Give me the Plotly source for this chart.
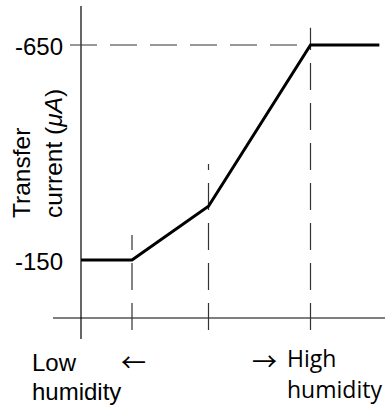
import plotly.graph_objects as go

# ---- data ----
humidity = [0, 2, 5, 9, 11.7]           # arbitrary humidity units
current = [-150, -150, -275, -650, -650]  # transfer current (uA)
thresholds_x = [2, 5, 9]
thresholds_top = [-208, -373, -690]
guide_bottom = 13
y_ticks = [-650, -150]
y_tick_labels = ["-650", "-150"]

W, H = 385, 409
PX_PER_X = 25.5
X0_PX = 81
Y_REF_PX, Y_REF_V = 260, -150
V_PER_PX = 500 / 215.0

def v_at(py):
    return Y_REF_V + (py - Y_REF_PX) * V_PER_PX

def x_at(px):
    return (px - X0_PX) / PX_PER_X

xr = [x_at(0), x_at(W)]
yr = [v_at(H), v_at(0)]

LEFT_FONT = "Liberation Sans, Arial, sans-serif"
RIGHT_FONT = "Open Sans, Noto Sans, sans-serif"
ARROW_FONT = "Noto Sans CJK SC"
DASH = "27px,13px"
GUIDE_COLOR = "#333333"

fig = go.Figure()

# axes lines
fig.add_trace(go.Scatter(x=[0, 0], y=[v_at(339), v_at(6)], mode="lines",
                         line=dict(color="black", width=1.2), hoverinfo="skip", showlegend=False))
fig.add_trace(go.Scatter(x=[x_at(53), x_at(W)], y=[v_at(318), v_at(318)], mode="lines",
                         line=dict(color="black", width=1.2), hoverinfo="skip", showlegend=False))

# horizontal dashed guide at -650
fig.add_trace(go.Scatter(x=[x_at(70), thresholds_x[-1]], y=[y_ticks[0], y_ticks[0]], mode="lines",
                         line=dict(color=GUIDE_COLOR, width=1.2, dash=DASH),
                         hoverinfo="skip", showlegend=False))

# vertical dashed guides (drawn bottom-up so dash phase starts at bottom)
for xv, top in zip(thresholds_x, thresholds_top):
    fig.add_trace(go.Scatter(x=[xv, xv], y=[guide_bottom, top], mode="lines",
                             line=dict(color=GUIDE_COLOR, width=1.2, dash=DASH),
                             hoverinfo="skip", showlegend=False))

# main curve
fig.add_trace(go.Scatter(x=humidity, y=current, mode="lines",
                         line=dict(color="black", width=3), hoverinfo="skip", showlegend=False))

ann = []
# tick labels
for tv, tl in zip(y_ticks, y_tick_labels):
    ann.append(dict(x=x_at(65), y=tv, xref="x", yref="y", text=tl, showarrow=False,
                    xanchor="right", yanchor="middle", yshift=-1,
                    font=dict(family=LEFT_FONT, size=24, color="black")))

# y-axis title
ann.append(dict(x=37 / W, y=1 - 154 / H, xref="paper", yref="paper",
                text="Transfer<br>current (<i>μA</i>)", textangle=-90, align="left",
                showarrow=False, xanchor="center", yanchor="middle",
                font=dict(family=LEFT_FONT, size=24.5, color="black")))

def txt(x_px, y_px, s, font, size, xanchor="left"):
    ann.append(dict(x=x_px / W, y=1 - y_px / H, xref="paper", yref="paper", text=s,
                    showarrow=False, xanchor=xanchor, yanchor="middle",
                    font=dict(family=font, size=size, color="black")))

txt(30, 362, "Low", LEFT_FONT, 24)
txt(30, 391, "humidity", LEFT_FONT, 24)
txt(133, 361, "←", ARROW_FONT, 25, xanchor="center")
txt(264, 360, "→", ARROW_FONT, 25, xanchor="center")
txt(285, 358, "High", RIGHT_FONT, 23)
txt(285, 389, "humidity", RIGHT_FONT, 23)

fig.update_layout(
    width=W, height=H,
    margin=dict(l=0, r=0, t=0, b=0),
    paper_bgcolor="white", plot_bgcolor="white",
    xaxis=dict(range=xr, visible=False, fixedrange=True),
    yaxis=dict(range=yr, visible=False, fixedrange=True),
    annotations=ann,
    showlegend=False,
)

fig.write_html("out.html", config={"displayModeBar": False},
               post_script="document.body.style.margin='0';document.body.style.padding='0';document.body.style.overflow='hidden';")
